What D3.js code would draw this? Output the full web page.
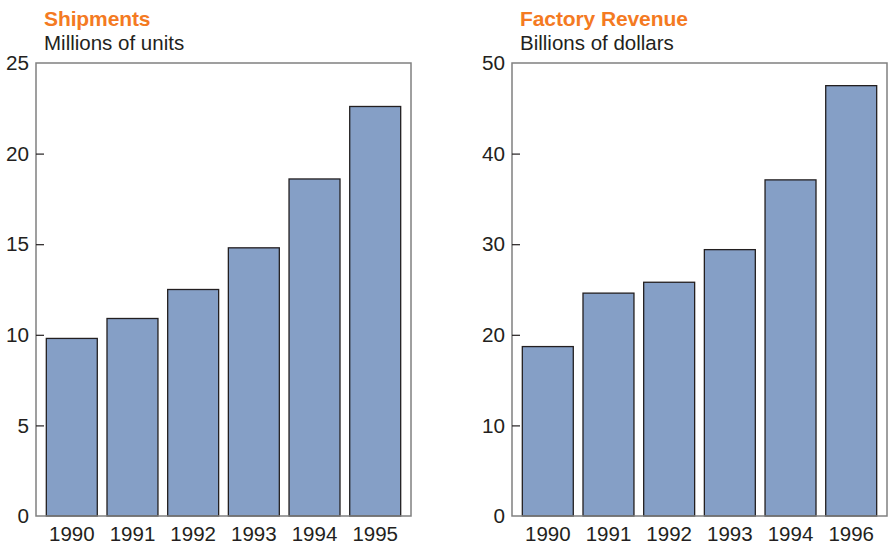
<!DOCTYPE html>
<html>
<head>
<meta charset="utf-8">
<script src="https://cdn.jsdelivr.net/npm/d3@7"></script>
<style>
  body { margin: 0; background: #fff; }
  text { font-family: "Liberation Sans", Arial, sans-serif; fill: #231f20; }
</style>
</head>
<body>
<div id="chart"></div>
<script>
// data
let shipYears = ['1990', '1991', '1992', '1993', '1994', '1995'];
let shipValues = [9.8, 10.9, 12.5, 14.8, 18.6, 22.6];
let shipTicks = [0, 5, 10, 15, 20, 25];

let revYears = ['1990', '1991', '1992', '1993', '1994', '1996'];
let revValues = [18.7, 24.6, 25.8, 29.4, 37.1, 47.5];
let revTicks = [0, 10, 20, 30, 40, 50];

let width = 889;
let height = 544;

let svg = d3.select('#chart')
  .append('svg')
  .attr('width', width)
  .attr('height', height);

function panel(left, title, subtitle, years, values, ticks) {
  let top = 63, bottom = 516, w = 375;

  let x = d3.scaleBand()
    .domain(years)
    .range([left, left + w])
    .paddingInner(0.16)
    .paddingOuter(0.17);

  let y = d3.scaleLinear()
    .domain([0, d3.max(ticks)])
    .range([bottom, top]);

  let g = svg.append('g');

  g.append('text')
    .attr('x', left + 8)
    .attr('y', 26)
    .style('font-size', '21px')
    .style('font-weight', 'bold')
    .style('fill', '#f47a22')
    .style('letter-spacing', '-0.1px')
    .text(title);

  g.append('text')
    .attr('x', left + 8)
    .attr('y', 49.5)
    .style('font-size', '20.5px')
    .text(subtitle);

  g.selectAll('.bar')
    .data(values)
    .enter()
    .append('rect')
    .attr('class', 'bar')
    .attr('x', (d, i) => x(years[i]))
    .attr('y', d => y(d))
    .attr('width', x.bandwidth())
    .attr('height', d => bottom - y(d))
    .attr('fill', '#859fc6')
    .attr('stroke', '#231f20')
    .attr('stroke-width', 1.3);

  // frame
  g.append('rect')
    .attr('x', left)
    .attr('y', top)
    .attr('width', w)
    .attr('height', bottom - top)
    .attr('fill', 'none')
    .attr('stroke', '#808080')
    .attr('stroke-width', 1.5);

  let axis = g.append('g')
    .attr('transform', 'translate(' + left + ',0)')
    .call(d3.axisLeft(y)
      .tickValues(ticks)
      .tickSizeInner(-8)
      .tickSizeOuter(0)
      .tickPadding(7));

  axis.select('.domain').remove();
  axis.selectAll('.tick line')
    .attr('stroke', '#231f20')
    .attr('stroke-width', 1.2)
    .style('display', d => (d === 0 || d === d3.max(ticks)) ? 'none' : null);
  axis.selectAll('.tick text')
    .style('font-size', '20.7px')
    .style('font-family', '"Liberation Sans", Arial, sans-serif')
    .attr('fill', '#231f20');

  g.selectAll('.year')
    .data(years)
    .enter()
    .append('text')
    .attr('class', 'year')
    .attr('x', d => x(d) + x.bandwidth() / 2)
    .attr('y', 541)
    .attr('text-anchor', 'middle')
    .style('font-size', '20.5px')
    .text(d => d);
}

panel(36, 'Shipments', 'Millions of units', shipYears, shipValues, shipTicks);
panel(512, 'Factory Revenue', 'Billions of dollars', revYears, revValues, revTicks);
</script>
</body>
</html>
